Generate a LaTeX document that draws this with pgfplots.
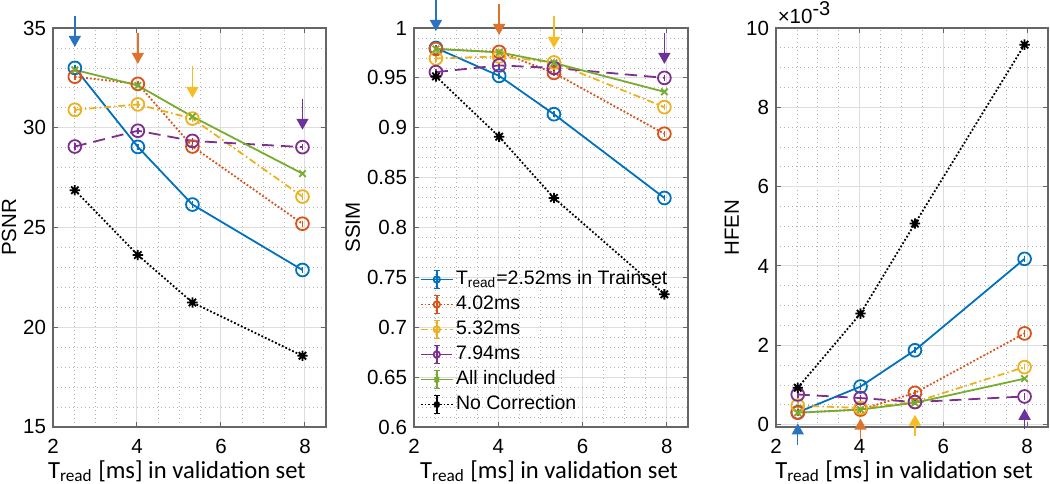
\documentclass[border=0pt]{standalone}
\usepackage{pgfplots}
\pgfplotsset{compat=1.18}
\usepackage{fontspec}
\setmainfont{Liberation Sans}
\newfontfamily\calib{Carlito}
\usetikzlibrary{arrows.meta}

\definecolor{mblue}{rgb}{0,0.447,0.741}
\definecolor{mred}{rgb}{0.85,0.325,0.098}
\definecolor{myellow}{rgb}{0.929,0.694,0.125}
\definecolor{mpurple}{rgb}{0.494,0.184,0.556}
\definecolor{mgreen}{rgb}{0.466,0.674,0.188}
\definecolor{ablue}{rgb}{0.16,0.45,0.76}
\definecolor{aorange}{rgb}{0.87,0.45,0.18}
\definecolor{ayellow}{rgb}{0.96,0.74,0.13}
\definecolor{apurple}{rgb}{0.42,0.2,0.6}

\pgfdeclareplotmark{mast}{%
  \pgfpathmoveto{\pgfqpoint{-\pgfplotmarksize}{0pt}}\pgfpathlineto{\pgfqpoint{\pgfplotmarksize}{0pt}}%
  \pgfpathmoveto{\pgfqpoint{0pt}{-\pgfplotmarksize}}\pgfpathlineto{\pgfqpoint{0pt}{\pgfplotmarksize}}%
  \pgfpathmoveto{\pgfqpoint{-0.707\pgfplotmarksize}{-0.707\pgfplotmarksize}}\pgfpathlineto{\pgfqpoint{0.707\pgfplotmarksize}{0.707\pgfplotmarksize}}%
  \pgfpathmoveto{\pgfqpoint{-0.707\pgfplotmarksize}{0.707\pgfplotmarksize}}\pgfpathlineto{\pgfqpoint{0.707\pgfplotmarksize}{-0.707\pgfplotmarksize}}%
  \pgfusepathqstroke}

\tikzset{
  sblue/.style={mblue, line width=0.9pt, mark=o, mark size=3.2pt, mark options={solid}},
  sred/.style={mred, line width=0.9pt, dash pattern=on 0.9pt off 1pt, mark=o, mark size=3.2pt, mark options={solid}},
  syellow/.style={myellow, line width=0.9pt, dash pattern=on 3.5pt off 1.5pt on 0.8pt off 1.5pt, mark=o, mark size=3.2pt, mark options={solid}},
  spurple/.style={mpurple, line width=0.9pt, dash pattern=on 6pt off 3.5pt, mark=o, mark size=3.2pt, mark options={solid}},
  sgreen/.style={mgreen, line width=0.9pt, mark=x, mark size=2.3pt, mark options={solid}},
  sblack/.style={black, line width=0.9pt, dash pattern=on 0.9pt off 1pt, mark=mast, mark size=2.6pt, mark options={solid, line width=0.9pt}},
  arr/.style={line width=0.7pt, -{Triangle[length=5.5pt,width=6pt]}},
}

\pgfplotsset{
  mlab/.style={
    scale only axis, clip=false,
    xmin=2, xmax=8.5, xtick={2,4,6,8},
    minor x tick num=3,
    grid=both,
    major grid style={black!13, line width=0.5pt},
    minor grid style={black!30, dash pattern=on 0.5pt off 1.5pt, line width=0.4pt},
    tick align=inside, major tick length=2.5pt, minor tick length=0pt,
    axis line style={black!60, line width=0.6pt},
    every tick/.style={black!60, line width=0.5pt},
    ticklabel style={font=\fontsize{10.25}{12}\selectfont},
    xticklabel style={yshift=-2.5pt},
    /pgf/number format/assume math mode=true,
    scaled ticks=false,
    /pgf/number format/fixed,
    label style={font=\fontsize{10.25}{12}\selectfont},
  },
  eb/.style={error bars/.cd, y dir=both, y fixed=0, error bar style={solid, line width=0.8pt}, error mark options={mark size=1.6pt, line width=0.8pt}},
}

\begin{document}
\begin{tikzpicture}
\useasboundingbox (0,0) rectangle (525pt,-241.5pt);

% ---------------- PSNR ----------------
\begin{axis}[mlab, at={(26.5pt,-213.5pt)}, anchor=south west, width=136.5pt, height=199.5pt,
  ymin=15, ymax=35, ytick={15,20,25,30,35}, minor y tick num=4,
  ylabel={PSNR}, ylabel style={at={(axis description cs:-0.161,0.5)}, anchor=center},
  xlabel={\calib\fontsize{12.3}{14}\selectfont T\textsubscript{read} [ms] in validation set},
  xlabel style={at={(axis description cs:0.454,-0.128)}, anchor=base}]
\addplot[sblue, eb] coordinates {(2.52,33.00) (4.02,29.04) (5.32,26.15) (7.94,22.87)};
\addplot[sred, eb] coordinates {(2.52,32.56) (4.02,32.20) (5.32,29.06) (7.94,25.19)};
\addplot[syellow, eb] coordinates {(2.52,30.90) (4.02,31.17) (5.32,30.46) (7.94,26.55)};
\addplot[spurple, eb] coordinates {(2.52,29.06) (4.02,29.85) (5.32,29.34) (7.94,29.03)};
\addplot[sgreen] coordinates {(2.52,32.90) (4.02,32.12) (5.32,30.56) (7.94,27.70)};
\addplot[sblack] coordinates {(2.52,26.87) (4.02,23.62) (5.32,21.24) (7.94,18.57)};
\addplot[arr, ablue, forget plot] coordinates {(2.52,35.6) (2.52,34.05)};
\addplot[arr, aorange, forget plot] coordinates {(4.02,34.75) (4.02,33.2)};
\addplot[arr, ayellow, forget plot] coordinates {(5.32,33.08) (5.32,31.5)};
\addplot[arr, apurple, forget plot] coordinates {(7.94,31.45) (7.94,29.9)};
\end{axis}

% ---------------- SSIM ----------------
\begin{axis}[mlab, at={(207pt,-213.5pt)}, anchor=south west, width=137pt, height=199.5pt,
  ymin=0.6, ymax=1, ytick={0.6,0.65,0.7,0.75,0.8,0.85,0.9,0.95,1},
  yticklabels={0.6,0.65,0.7,0.75,0.8,0.85,0.9,0.95,1}, minor y tick num=4,
  ylabel={SSIM}, ylabel style={at={(axis description cs:-0.223,0.5)}, anchor=center},
  xlabel={\calib\fontsize{12.3}{14}\selectfont T\textsubscript{read} [ms] in validation set},
  xlabel style={at={(axis description cs:0.493,-0.128)}, anchor=base},
  legend style={draw=none, fill=none, at={(axis description cs:0.02,0.402)}, anchor=north west,
    font=\fontsize{9.75}{11}\selectfont, inner sep=0pt, row sep=0pt,
    nodes={inner sep=1.2pt, text height=7.5pt, text depth=2.6pt}},
  legend cell align=left,
  legend image code/.code={
    \draw[#1, mark=none] (0pt,0pt) -- (16pt,0pt);
    \draw[#1, solid, mark=none, line width=0.8pt] (8pt,-4.5pt) -- (8pt,4.5pt) (6.5pt,-4.5pt) -- (9.5pt,-4.5pt) (6.5pt,4.5pt) -- (9.5pt,4.5pt);
    \draw[#1, solid, mark size=1.6pt] plot coordinates {(8pt,0pt)};
  }]
\addplot[sblue, eb] coordinates {(2.52,0.9800) (4.02,0.9520) (5.32,0.9136) (7.94,0.8296)};
\addplot[sred, eb] coordinates {(2.52,0.9790) (4.02,0.9760) (5.32,0.9550) (7.94,0.8940)};
\addplot[syellow, eb] coordinates {(2.52,0.9695) (4.02,0.9715) (5.32,0.9655) (7.94,0.9207)};
\addplot[spurple, eb] coordinates {(2.52,0.9558) (4.02,0.9625) (5.32,0.9600) (7.94,0.9500)};
\addplot[sgreen] coordinates {(2.52,0.9790) (4.02,0.9756) (5.32,0.9650) (7.94,0.9360)};
\addplot[sblack] coordinates {(2.52,0.9515) (4.02,0.8910) (5.32,0.8296) (7.94,0.7330)};
\legend{T\textsubscript{read}=2.52ms in Trainset, 4.02ms, 5.32ms, 7.94ms, All included, No Correction}
\addplot[arr, ablue, forget plot] coordinates {(2.52,1.0285) (2.52,0.997)};
\addplot[arr, aorange, forget plot] coordinates {(4.02,1.0244) (4.02,0.993)};
\addplot[arr, ayellow, forget plot] coordinates {(5.32,1.0117) (5.32,0.980)};
\addplot[arr, apurple, forget plot] coordinates {(7.94,0.995) (7.94,0.964)};
\end{axis}

% ---------------- HFEN ----------------
\begin{axis}[mlab, at={(388pt,-213.5pt)}, anchor=south west, width=136pt, height=199.5pt,
  ymin=-0.06, ymax=10, ytick={0,2,4,6,8,10}, minor y tick num=3,
  ylabel={HFEN}, ylabel style={at={(axis description cs:-0.162,0.5)}, anchor=center},
  xlabel={\calib\fontsize{12.3}{14}\selectfont T\textsubscript{read} [ms] in validation set},
  xlabel style={at={(axis description cs:0.471,-0.128)}, anchor=base}]
\addplot[sblue, eb] coordinates {(2.52,0.31) (4.02,0.96) (5.32,1.875) (7.94,4.18)};
\addplot[sred, eb] coordinates {(2.52,0.30) (4.02,0.38) (5.32,0.80) (7.94,2.30)};
\addplot[syellow, eb] coordinates {(2.52,0.48) (4.02,0.42) (5.32,0.57) (7.94,1.45)};
\addplot[spurple, eb] coordinates {(2.52,0.76) (4.02,0.67) (5.32,0.57) (7.94,0.71)};
\addplot[sgreen] coordinates {(2.52,0.30) (4.02,0.38) (5.32,0.55) (7.94,1.16)};
\addplot[sblack] coordinates {(2.52,0.93) (4.02,2.80) (5.32,5.07) (7.94,9.58)};
\addplot[arr, ablue, forget plot] coordinates {(2.52,-0.51) (2.52,0.03)};
\addplot[arr, aorange, forget plot] coordinates {(4.02,-0.36) (4.02,0.15)};
\addplot[arr, ayellow, forget plot] coordinates {(5.32,-0.28) (5.32,0.25)};
\addplot[arr, apurple, forget plot] coordinates {(7.94,-0.11) (7.94,0.40)};
\node[anchor=base west, inner sep=0pt, font=\fontsize{10.25}{12}\selectfont] at (axis description cs:0.005,1.012) {×10\raisebox{0.75ex}{\fontsize{10}{12}\selectfont -3}};
\end{axis}
\end{tikzpicture}
\end{document}
